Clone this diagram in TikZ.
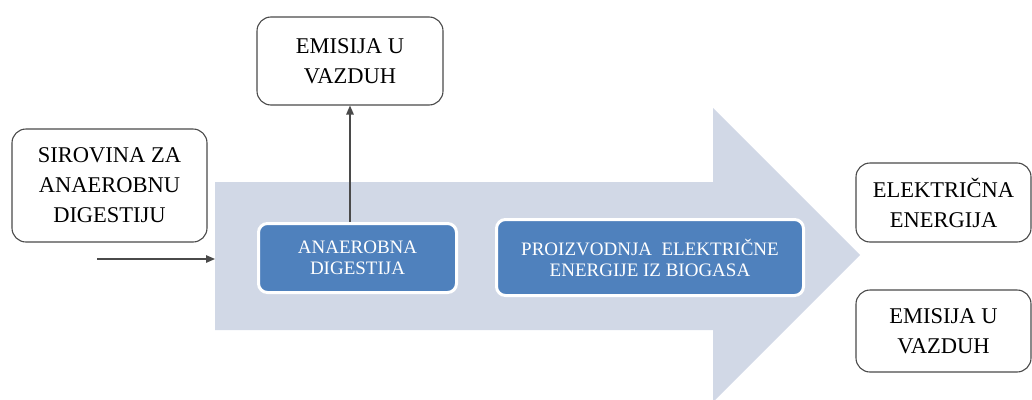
\documentclass[tikz,border=0pt]{standalone}
\usepackage{fontspec}
\setmainfont{Liberation Serif}
\usetikzlibrary{arrows.meta}
\definecolor{flowgrey}{HTML}{D1D8E6}
\definecolor{stepblue}{HTML}{4F81BD}
\definecolor{edgegrey}{HTML}{4A4A4A}
\tikzset{
  outbox/.style={draw=edgegrey, line width=1.1pt, rounded corners=14pt, fill=white,
    inner sep=0pt, align=center, text=black,
    font=\fontsize{22.5}{30}\selectfont},
  stepbox/.style={draw=white, line width=3pt, rounded corners=9pt, fill=stepblue,
    inner sep=0pt, align=center, text=white,
    font=\fontsize{19}{21}\selectfont},
  link/.style={draw=edgegrey, line width=1.3pt, -{Triangle[length=9pt,width=7.5pt]}}
}
\begin{document}
\begin{tikzpicture}[x=1pt, y=-1pt]
  \useasboundingbox (0,0) rectangle (1032,399);
  % wide process arrow in the background
  \fill[flowgrey] (215,182) -- (713,182) -- (713,108) -- (860,255)
                  -- (713,402) -- (713,330) -- (215,330) -- cycle;
  % input, output and emission boxes
  \node[outbox, minimum width=195pt, minimum height=113pt] (raw) at (109.5,185.5)
    {SIROVINA ZA\\ANAEROBNU\\DIGESTIJU};
  \node[outbox, minimum width=186pt, minimum height=88pt] (emisTop) at (350,61)
    {EMISIJA U\\VAZDUH};
  \node[outbox, minimum width=175pt, minimum height=79pt] (power) at (943.5,202.5)
    {ELEKTRIČNA\\ENERGIJA};
  \node[outbox, minimum width=175pt, minimum height=82pt] (emisOut) at (943.5,331)
    {EMISIJA U\\VAZDUH};
  % process steps on the arrow
  \node[stepbox, minimum width=198pt, minimum height=69pt] (digest) at (357.5,258)
    {ANAEROBNA\\DIGESTIJA};
  \node[stepbox, minimum width=307pt, minimum height=76pt] (chp) at (650,257.5)
    {PROIZVODNJA\ \ ELEKTRIČNE\\ENERGIJE IZ BIOGASA};
  % connectors
  \coordinate (feedStart) at (97,259);
  \coordinate (feedEnd) at (215,259);
  \draw[link] (feedStart) -- (feedEnd);
  \draw[link] (digest.north -| emisTop.south) -- (emisTop.south);
\end{tikzpicture}
\end{document}
